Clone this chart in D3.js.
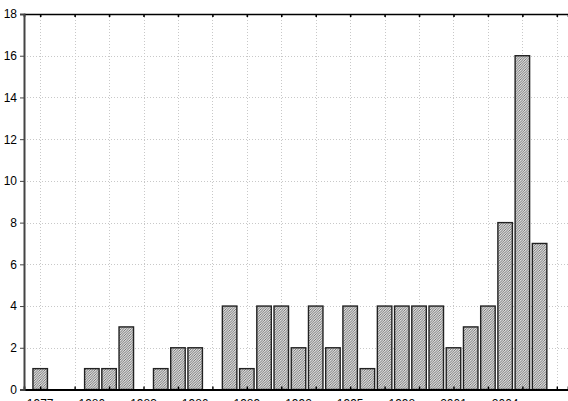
<!DOCTYPE html>
<html>
<head>
<meta charset="utf-8">
<script src="https://cdn.jsdelivr.net/npm/d3@7"></script>
<style>
  body { margin: 0; background: #fff; }
  svg { display: block; font-family: "Liberation Sans", Arial, sans-serif; }
</style>
</head>
<body>
<div id="chart"></div>
<script>
const years = d3.range(1977, 2007);
const counts = [1, 0, 0, 1, 1, 3, 0, 1, 2, 2, 0, 4, 1, 4, 4, 2, 4, 2, 4, 1, 4, 4, 4, 4, 2, 3, 4, 8, 16, 7];
const yTicks = [0, 2, 4, 6, 8, 10, 12, 14, 16, 18];
const xLabels = [1977, 1980, 1983, 1986, 1989, 1992, 1995, 1998, 2001, 2004];
const xTicks = d3.range(1977, 2008, 2);

const width = 568, height = 401;
const plotLeft = 24, plotTop = 14, plotBottom = 389.5;

const svg = d3.select('#chart').append('svg')
    .attr('width', width)
    .attr('height', height);

// hatch pattern
const pat = svg.append('defs').append('pattern')
    .attr('id', 'hatch')
    .attr('patternUnits', 'userSpaceOnUse')
    .attr('width', 2.5).attr('height', 2.5);
pat.append('rect').attr('width', 2.5).attr('height', 2.5).attr('fill', '#dcdcdc');
pat.append('path')
    .attr('d', 'M-1,1 L1,-1 M0,2.5 L2.5,0 M1.5,3.5 L3.5,1.5')
    .attr('stroke', '#606060').attr('stroke-width', 0.8);

const x = d3.scaleLinear()
    .domain([1976.06, 2007.65])
    .range([plotLeft, width]);

const y = d3.scaleLinear()
    .domain([0, 18])
    .range([plotBottom, plotTop]);

// grid
svg.append('g')
    .selectAll('line')
    .data(yTicks.slice(1, -1))
    .enter().append('line')
    .attr('x1', plotLeft).attr('x2', width)
    .attr('y1', d => Math.round(y(d)) + 0.5).attr('y2', d => Math.round(y(d)) + 0.5)
    .attr('stroke', '#c8c8c8').attr('stroke-dasharray', '1,2');

svg.append('g')
    .selectAll('line')
    .data(xTicks)
    .enter().append('line')
    .attr('x1', d => Math.round(x(d)) + 0.5).attr('x2', d => Math.round(x(d)) + 0.5)
    .attr('y1', plotTop).attr('y2', plotBottom)
    .attr('stroke', '#c8c8c8').attr('stroke-dasharray', '1,2');

// bars
const bw = 14.5;
svg.append('g')
    .selectAll('rect')
    .data(years.map((yr, i) => ({ yr, v: counts[i] })).filter(d => d.v > 0))
    .enter().append('rect')
    .attr('x', d => x(d.yr) - bw / 2)
    .attr('y', d => y(d.v))
    .attr('width', bw)
    .attr('height', d => plotBottom - y(d.v))
    .attr('fill', 'url(#hatch)')
    .attr('stroke', '#222')
    .attr('stroke-width', 1.4);

// top axis
svg.append('g')
    .attr('transform', 'translate(0,' + plotTop + ')')
    .call(d3.axisTop(x).tickValues(xTicks).tickSize(-3).tickFormat(''))
    .call(g => g.select('.domain').attr('stroke', '#000').attr('stroke-width', 1.6))
    .call(g => g.selectAll('.tick line').attr('stroke-width', 1.6));

// bottom axis
const xa = svg.append('g')
    .attr('transform', 'translate(0,' + plotBottom + ')')
    .call(d3.axisBottom(x).tickValues(xTicks).tickSize(-3).tickFormat(''));
xa.select('.domain').attr('stroke', '#000').attr('stroke-width', 1.8);
xa.selectAll('.tick line').attr('stroke-width', 1.4);

svg.append('g')
    .selectAll('text')
    .data(xLabels)
    .enter().append('text')
    .attr('x', d => x(d))
    .attr('y', 407.5)
    .attr('text-anchor', 'middle')
    .attr('font-size', 12)
    .text(d => d);

// left axis
svg.append('g')
    .attr('transform', 'translate(' + plotLeft + ',0)')
    .call(d3.axisLeft(y).tickValues(yTicks).tickSize(4).tickPadding(3))
    .call(g => g.select('.domain').attr('stroke', '#444').attr('stroke-width', 2))
    .call(g => g.selectAll('.tick text').attr('font-size', 12).attr('fill', '#000'))
    .call(g => g.selectAll('.tick line').attr('stroke', '#444'));
</script>
</body>
</html>
